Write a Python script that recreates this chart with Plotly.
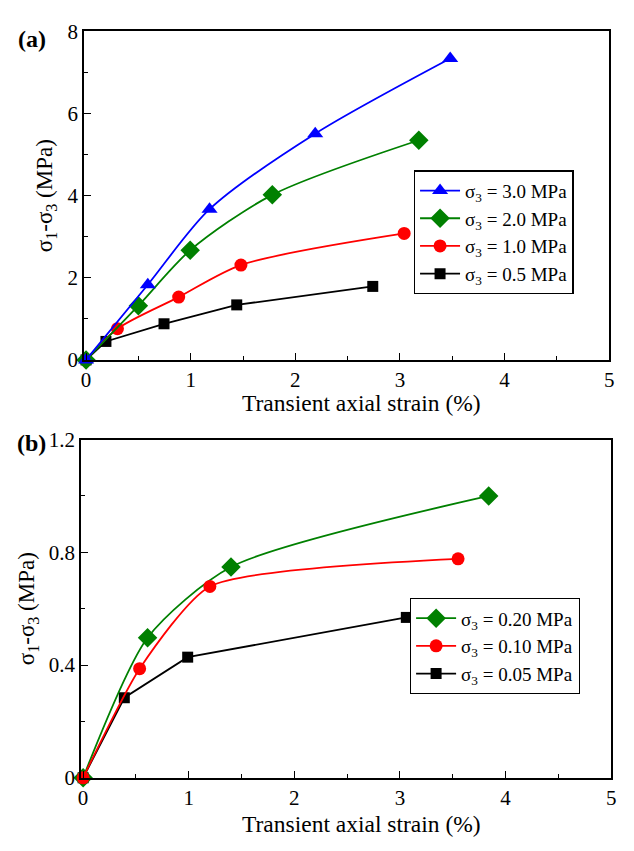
import plotly.graph_objects as go

# Panel (a)
a_x_30 = [0, 0.59, 1.18, 2.19, 3.48]
a_y_30 = [0, 1.83, 3.67, 5.51, 7.34]
a_x_20 = [0, 0.50, 0.995, 1.78, 3.18]
a_y_20 = [0, 1.32, 2.67, 4.02, 5.35]
a_x_10 = [0, 0.30, 0.885, 1.48, 3.04]
a_y_10 = [0, 0.76, 1.53, 2.31, 3.08]
a_x_05 = [0, 0.19, 0.745, 1.44, 2.74]
a_y_05 = [0, 0.45, 0.88, 1.34, 1.79]

# Panel (b)
b_x_020 = [0, 0.61, 1.40, 3.84]
b_y_020 = [0, 0.497, 0.748, 1.0]
b_x_010 = [0, 0.535, 1.20, 3.55]
b_y_010 = [0, 0.387, 0.679, 0.777]
b_x_005 = [0, 0.39, 0.99, 3.06]
b_y_005 = [0, 0.284, 0.428, 0.569]

X_TITLE = "Transient axial strain (%)"
Y_TITLE = "σ<sub>1</sub>-σ<sub>3</sub> (MPa)"

W, H = 634, 851
FONT = "Times New Roman, Liberation Serif, serif"

fig = go.Figure()

def add(x, y, name, color, symbol, size, shape, smooth, xa, ya, legend):
    fig.add_trace(go.Scatter(
        x=x, y=y, name=name, mode="lines+markers",
        line=dict(color=color, width=1.8, shape=shape, smoothing=smooth),
        marker=dict(color=color, symbol=symbol, size=size),
        xaxis=xa, yaxis=ya, legend=legend, cliponaxis=False))

add(a_x_05, a_y_05, "σ<sub>3</sub> = 0.5 MPa", "#000000", "square", 11, "linear", 1.0, "x", "y", "legend")
add(a_x_10, a_y_10, "σ<sub>3</sub> = 1.0 MPa", "#FF0000", "circle", 13, "spline", 0.8, "x", "y", "legend")
add(a_x_20, a_y_20, "σ<sub>3</sub> = 2.0 MPa", "#008000", "diamond", 15, "spline", 0.8, "x", "y", "legend")
add(a_x_30, a_y_30, "σ<sub>3</sub> = 3.0 MPa", "#0000FF", "triangle-up", 14, "spline", 0.8, "x", "y", "legend")

add(b_x_005, b_y_005, "σ<sub>3</sub> = 0.05 MPa", "#000000", "square", 11, "linear", 1.0, "x2", "y2", "legend2")
add(b_x_020, b_y_020, "σ<sub>3</sub> = 0.20 MPa", "#008000", "diamond", 15, "spline", 0.7, "x2", "y2", "legend2")
add(b_x_010, b_y_010, "σ<sub>3</sub> = 0.10 MPa", "#FF0000", "circle", 13, "spline", 0.6, "x2", "y2", "legend2")

axis_common = dict(showline=True, linecolor="black", linewidth=1.5, mirror=True,
                   ticks="inside", ticklen=7, tickwidth=1.3, tickcolor="black",
                   showgrid=False, zeroline=False,
                   tickfont=dict(family=FONT, size=21, color="black"))
minor_common = dict(ticks="inside", ticklen=4, tickcolor="black", tickwidth=1.2)
title_font = dict(family=FONT, size=23, color="black")

fig.update_layout(
    width=W, height=H, margin=dict(l=0, r=0, t=0, b=0),
    plot_bgcolor="white", paper_bgcolor="white",
    font=dict(family=FONT, color="black"),
    xaxis=dict(axis_common, domain=[82 / W, 614 / W], range=[-0.02, 5.0], dtick=1,
               minor=dict(minor_common, dtick=0.5), anchor="y"),
    yaxis=dict(axis_common, domain=[1 - 358 / H, 1 - 20 / H], range=[0, 8], dtick=2,
               minor=dict(minor_common, dtick=1),
               title=dict(text=Y_TITLE, font=title_font, standoff=8),
               anchor="x"),
    xaxis2=dict(axis_common, domain=[79 / W, 616 / W], range=[-0.02, 5.0], dtick=1,
                minor=dict(minor_common, dtick=0.5), anchor="y2"),
    yaxis2=dict(axis_common, domain=[1 - 788 / H, 1 - 440 / H], range=[0, 1.2], dtick=0.4,
                tickformat="~g",
                minor=dict(minor_common, dtick=0.2),
                title=dict(text=Y_TITLE, font=title_font, standoff=8),
                anchor="x2"),
    legend=dict(x=416 / W, y=1 - 163 / H, xanchor="left", yanchor="top",
                bordercolor="black", borderwidth=1.3, bgcolor="white", itemwidth=40,
                font=dict(family=FONT, size=19), traceorder="reversed", tracegroupgap=0),
    legend2=dict(x=412 / W, y=1 - 603 / H, xanchor="left", yanchor="top",
                 bordercolor="black", borderwidth=1.3, bgcolor="white", itemwidth=40,
                 font=dict(family=FONT, size=19), traceorder="normal"),
    showlegend=True,
)

fig.data[4].legendrank = 3
fig.data[5].legendrank = 1
fig.data[6].legendrank = 2

# x-axis titles
fig.add_annotation(text=X_TITLE, x=363 / W, y=1 - 402 / H, xref="paper", yref="paper",
                   xanchor="center", yanchor="middle", showarrow=False,
                   font=dict(family=FONT, size=23.5, color="black"))
fig.add_annotation(text=X_TITLE, x=363 / W, y=1 - 836 / H, xref="paper", yref="paper",
                   xanchor="center", yanchor="middle", showarrow=False,
                   font=dict(family=FONT, size=23.5, color="black"))

fig.add_annotation(text="<b>(a)</b>", x=13 / W, y=1 - 28 / H, xref="paper", yref="paper",
                   xanchor="left", yanchor="middle", showarrow=False,
                   font=dict(family=FONT, size=24, color="black"))
fig.add_annotation(text="<b>(b)</b>", x=12 / W, y=1 - 443 / H, xref="paper", yref="paper",
                   xanchor="left", yanchor="middle", showarrow=False,
                   font=dict(family=FONT, size=24, color="black"))

fig.write_html("out.html")
